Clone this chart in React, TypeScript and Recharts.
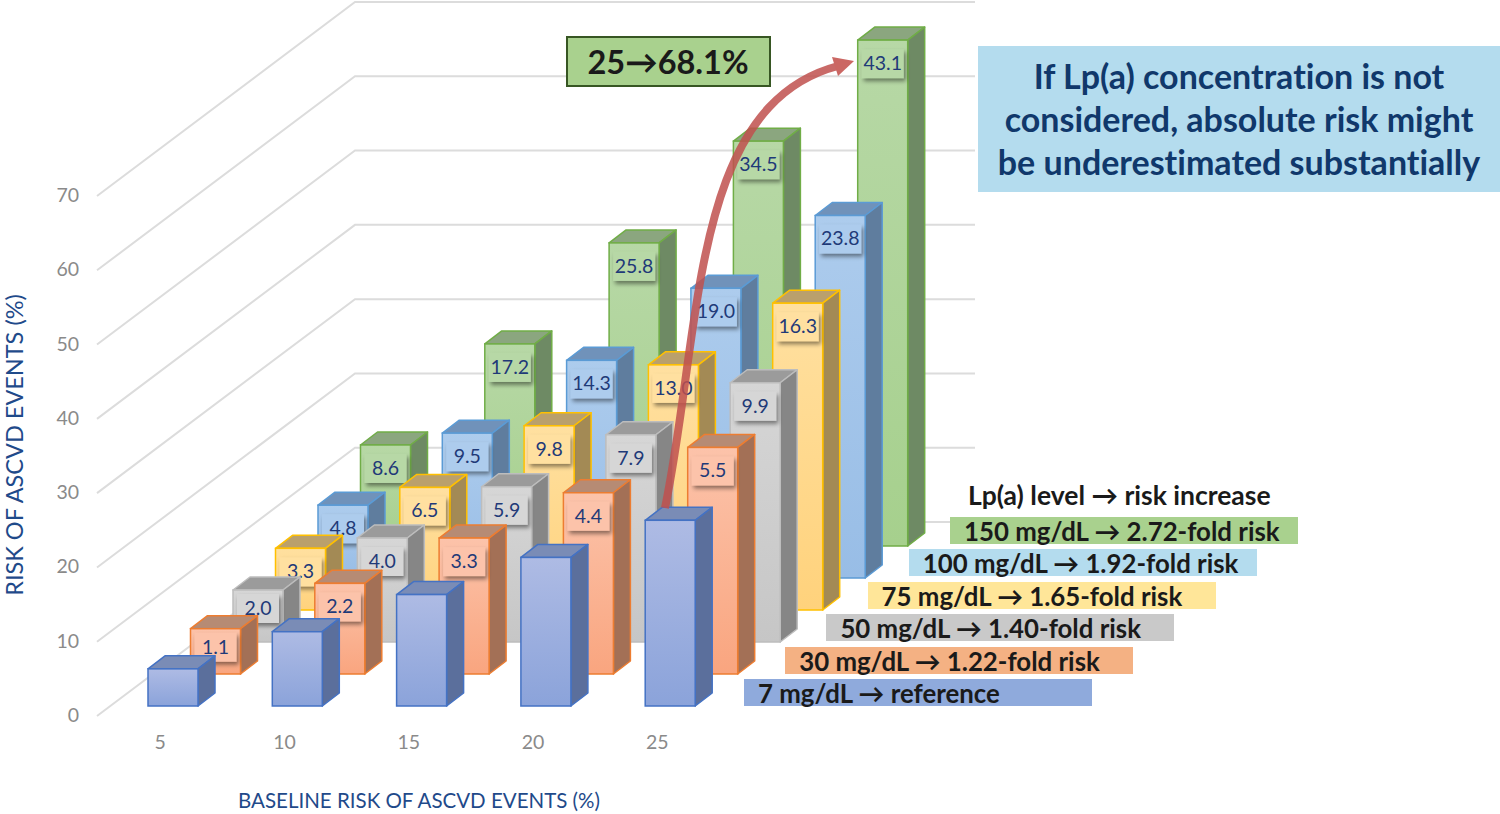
import { Bar, CartesianGrid, ComposedChart, XAxis, YAxis } from "recharts";

const categories = ["5", "10", "15", "20", "25"];
const baseline = [5, 10, 15, 20, 25];
const extra30 = [1.1, 2.2, 3.3, 4.4, 5.5];
const extra50 = [2.0, 4.0, 5.9, 7.9, 9.9];
const extra75 = [3.3, 6.5, 9.8, 13.0, 16.3];
const extra100 = [4.8, 9.5, 14.3, 19.0, 23.8];
const extra150 = [8.6, 17.2, 25.8, 34.5, 43.1];
const yTicks = [0, 10, 20, 30, 40, 50, 60, 70];

// drawn back to front
const series = [
  { key: "mg150", depth: 5, extra: extra150, top: "#b7d8a6", bottom: "#a6d08d", edge: "#70ad47", lid: "#8ba67f", side: "#6e8a64" },
  { key: "mg100", depth: 4, extra: extra100, top: "#adcced", bottom: "#98bde6", edge: "#5b9bd5", lid: "#7092ba", side: "#5f7d9e" },
  { key: "mg75", depth: 3, extra: extra75, top: "#ffe0a0", bottom: "#ffd27c", edge: "#ffc000", lid: "#baa06c", side: "#a38a55" },
  { key: "mg50", depth: 2, extra: extra50, top: "#d6d6d6", bottom: "#c6c6c6", edge: "#bdbdbd", lid: "#9b9b9b", side: "#868686" },
  { key: "mg30", depth: 1, extra: extra30, top: "#fcc3aa", bottom: "#f9a57f", edge: "#ed7d31", lid: "#b68b74", side: "#a37056" },
  { key: "mg7", depth: 0, extra: null, top: "#aebbe4", bottom: "#8ba3da", edge: "#4472c4", lid: "#7a8cb6", side: "#5b6f9c" },
];

const legendRows = [
  { text: "150 mg/dL → 2.72-fold risk", color: "#a9d18e" },
  { text: "100 mg/dL → 1.92-fold risk", color: "#b4dcee" },
  { text: "75 mg/dL → 1.65-fold risk", color: "#ffe699" },
  { text: "50 mg/dL → 1.40-fold risk", color: "#c9c9c9" },
  { text: "30 mg/dL → 1.22-fold risk", color: "#f4b183" },
  { text: "7 mg/dL → reference", color: "#8faadc" },
];

const data = categories.map((name, i) => {
  const row: any = { name, mg7: baseline[i] };
  series.forEach((s) => {
    if (s.extra) row[s.key] = baseline[i] + s.extra[i];
  });
  return row;
});

const font = "Lato, 'Open Sans', sans-serif";
const navy = "#1f3a78";
const stepX = 42.5;
const stepY = 32;
const sideX = 17;
const sideY = 13;

const makeBarShape = (s: any) => (props: any) => {
  const { x, y, width, height, index } = props;
  const r = x + width;
  const b = y + height;
  const value = s.extra ? s.extra[index] : null;
  // short bars carry their label closer to the top
  const labelY = y + (height < 60 ? 18 : 23);
  return (
    <g transform={`translate(${s.depth * stepX},${-s.depth * stepY})`}>
      <polygon
        points={`${x},${y} ${x + sideX},${y - sideY} ${r + sideX},${y - sideY} ${r},${y}`}
        fill={s.lid}
        stroke={s.edge}
        strokeWidth={1.5}
        strokeLinejoin="round"
      />
      <polygon
        points={`${r},${y} ${r + sideX},${y - sideY} ${r + sideX},${b - sideY} ${r},${b}`}
        fill={s.side}
        stroke={s.edge}
        strokeWidth={1.5}
        strokeLinejoin="round"
      />
      <rect x={x} y={y} width={width} height={height} fill={`url(#grad-${s.key})`} stroke={s.edge} strokeWidth={1.5} />
      {value !== null && (
        <g>
          <rect x={x + 4} y={labelY - 14} width={42} height={29} fill={s.top} filter="url(#labelShadow)" />
          <text
            x={x + 25}
            y={labelY + 7}
            textAnchor="middle"
            fontFamily={font}
            fontSize={19.5}
            fill={navy}
          >
            {value.toFixed(1)}
          </text>
        </g>
      )}
    </g>
  );
};

const GridLine = (props: any) => {
  const { y1, key } = props;
  return (
    <polyline
      key={key ?? y1}
      points={`97,${y1 + 10} 355,${y1 - 184} 975,${y1 - 184}`}
      fill="none"
      stroke="#dcdcdc"
      strokeWidth={2}
    />
  );
};

const XTick = ({ x, y, payload }: any) => (
  <text x={x - 13} y={y + 35} textAnchor="middle" fontFamily={font} fontSize={19.5} fill="#8a8a8a">
    {payload.value}
  </text>
);

const YTick = ({ y, payload }: any) => (
  <text x={79} y={y + 16} textAnchor="end" fontFamily={font} fontSize={19.5} fill="#8a8a8a">
    {payload.value}
  </text>
);

const StairLegend = () => (
  <div style={{ position: "absolute", left: 744, top: 480, width: 560, height: 230, fontFamily: font, fontWeight: 700, fontSize: 25.8, color: "#1a1a1a", fontVariantLigatures: "none" }}>
    <div style={{ position: "absolute", left: 224, top: -1, lineHeight: "32px", whiteSpace: "nowrap", fontSize: 26.5 }}>
      Lp(a) level → risk increase
    </div>
    {legendRows.map((row, i) => (
      <div
        key={row.text}
        style={{
          position: "absolute",
          left: 206 - i * 41.2,
          top: 37 + i * 32.4,
          width: 348,
          height: 27,
          lineHeight: "28px",
          background: row.color,
          paddingLeft: 14,
          boxSizing: "border-box",
          whiteSpace: "nowrap",
        }}
      >
        {row.text}
      </div>
    ))}
  </div>
);

export default function App() {
  return (
    <div style={{ position: "absolute", left: 0, top: 0, width: 1500, height: 814, overflow: "hidden", background: "#fff" }}>
      <ComposedChart
        width={1500}
        height={814}
        data={data}
        barSize={50}
        barGap={-50}
        margin={{ top: 186, right: 767.5, bottom: 78, left: 0 }}
      >
        <defs>
          {series.map((s) => (
            <linearGradient key={s.key} id={`grad-${s.key}`} x1="0" y1="0" x2="0" y2="1">
              <stop offset="0%" stopColor={s.top} />
              <stop offset="100%" stopColor={s.bottom} />
            </linearGradient>
          ))}
          <filter id="labelShadow" x="-20%" y="-20%" width="150%" height="160%">
            <feDropShadow dx={2} dy={3} stdDeviation={2} floodColor="#000" floodOpacity={0.45} />
          </filter>
        </defs>
        <CartesianGrid vertical={false} horizontal={GridLine as any} />
        <XAxis dataKey="name" height={30} axisLine={false} tickLine={false} tick={<XTick />} />
        <YAxis
          width={111}
          domain={[0, 70]}
          ticks={yTicks}
          interval={0}
          axisLine={false}
          tickLine={false}
          tick={<YTick />}
        />
        {series.map((s) => (
          <Bar key={s.key} dataKey={s.key} isAnimationActive={false} shape={makeBarShape(s)} />
        ))}
      </ComposedChart>

      <StairLegend />

      <svg width={1500} height={814} style={{ position: "absolute", left: 0, top: 0, pointerEvents: "none", fontVariantLigatures: "none" }}>
        <path
          d="M665,508 C702,330 690,105 838,66"
          fill="none"
          stroke="#c0504d"
          strokeOpacity={0.85}
          strokeWidth={8}
        />
        <polygon points="854,61 832,57 838,76" fill="#cb6763" />

        <rect x={567} y={37} width={203} height={49} fill="#a9d18e" stroke="#375623" strokeWidth={2} />
        <text x={668} y={74} textAnchor="middle" fontFamily={font} fontWeight={700} fontSize={32.5} fill="#1a1a1a">
          25→68.1%
        </text>

        <rect x={978} y={46} width={522} height={146} fill="#b4dcee" />
        <g textAnchor="middle" fontFamily={font} fontWeight={700} fontSize={34} fill="#10386b">
          <text x={1239} y={89}>If Lp(a) concentration is not</text>
          <text x={1239} y={132}>considered, absolute risk might</text>
          <text x={1239} y={175}>be underestimated substantially</text>
        </g>

        <text
          transform="translate(23,445) rotate(-90)"
          textAnchor="middle"
          fontFamily={font}
          fontSize={23.5}
          fill="#1f4a8a"
        >
          RISK OF ASCVD EVENTS (%)
        </text>
        <text x={419} y={808} textAnchor="middle" fontFamily={font} fontSize={20.5} fill="#1f4a8a">
          BASELINE RISK OF ASCVD EVENTS (%)
        </text>
      </svg>
    </div>
  );
}
